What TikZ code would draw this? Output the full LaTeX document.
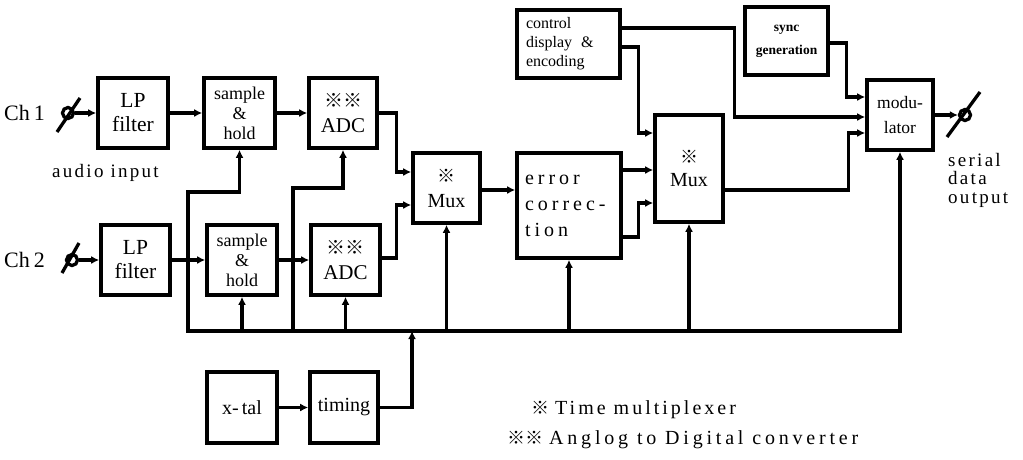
\documentclass[tikz,border=0pt]{standalone}
\usepackage{fontspec}
\setmainfont{Liberation Serif}
\newfontfamily\wide[LetterSpace=12]{Liberation Serif}
\newfontfamily\wider[LetterSpace=20]{Liberation Serif}
\newfontfamily\legA[LetterSpace=15]{Liberation Serif}
\newfontfamily\legB[LetterSpace=19]{Liberation Serif}
\newfontfamily\cjk{Noto Sans CJK JP}
\usetikzlibrary{arrows.meta,calc}
\newcommand\rmk{{\cjk ※}}
\newcommand\fs[2]{\fontsize{#1}{#2}\selectfont}

\begin{document}
\begin{tikzpicture}[x=1pt,y=-1pt,
  blk/.style={draw,line width=3.6pt,inner sep=0pt,align=center},
  wire/.style={line width=3.3pt},
  arr/.style={line width=3.3pt,-{Latex[length=8pt,width=8pt]}},
  jack/.style={draw,circle,line width=3.3pt,minimum size=11pt,inner sep=0pt},
  lbl/.style={inner sep=0pt,align=left}]
\useasboundingbox (0,0) rectangle (1023,459);

% ---- processing blocks ----
\node[blk,minimum width=70pt,minimum height=70pt,font=\fs{21.5}{24}] (lp1) at (133,113)
  {LP\\filter};
\node[blk,minimum width=71pt,minimum height=70pt,font=\fs{18}{20}] (sh1) at (239.5,113)
  {sample\\\&\\hold};
\node[blk,minimum width=68pt,minimum height=70pt,font=\fs{21}{25}] (adc1) at (343,113)
  {{\fs{19}{25}\rmk\rmk}\\ADC};
\node[blk,minimum width=69pt,minimum height=70pt,font=\fs{21.5}{24}] (lp2) at (135.5,260)
  {LP\\filter};
\node[blk,minimum width=70pt,minimum height=70pt,font=\fs{18}{20}] (sh2) at (242,260)
  {sample\\\&\\hold};
\node[blk,minimum width=69pt,minimum height=70pt,font=\fs{21}{25}] (adc2) at (345.5,260)
  {{\fs{19}{25}\rmk\rmk}\\ADC};
\node[blk,minimum width=67pt,minimum height=70pt,font=\fs{20}{25}] (mux1) at (446.5,188)
  {{\fs{18}{25}\rmk}\\Mux};
\node[blk,minimum width=104pt,minimum height=105pt,align=left,
      text width=88pt,font={\fs{20}{26}\wider}] (err) at (569,205.5)
  {error\\correc-\\tion};
\node[blk,minimum width=103pt,minimum height=68pt,align=left,
      text width=85pt,font=\fs{16}{19}] (ctrl) at (568.5,44)
  {control\\display\hspace{9pt}\&\\encoding};
\node[blk,minimum width=68pt,minimum height=107pt,font=\fs{20}{23}] (mux2) at (689,168.5)
  {{\fs{18}{23}\rmk}\\Mux};
\node[blk,minimum width=83pt,minimum height=68pt,font={\fs{13.5}{23}\bfseries}] (sync) at (786.5,41)
  {sync\\generation};
\node[blk,minimum width=66pt,minimum height=70pt,font=\fs{17.5}{25}] (mod) at (900,115)
  {modu-\\lator};
\node[blk,minimum width=70pt,minimum height=71pt,font=\fs{20}{23}] (xtal) at (242,407.5)
  {x-\hspace{3pt}tal};
\node[blk,minimum width=68pt,minimum height=71pt,font=\fs{20}{23}] (timing) at (344,407.5)
  {timing};

% ---- input and output jacks ----
\node[jack] (ch1) at (68,113) {};
\draw[wire] ([shift={(-11,19)}]ch1.center) -- ([shift={(12,-15)}]ch1.center);
\node[jack] (ch2) at (72,260) {};
\draw[wire] ([shift={(-10,13)}]ch2.center) -- ([shift={(7,-17)}]ch2.center);
\node[jack] (out) at (965,115) {};
\draw[wire] ([shift={(-18,22)}]out.center) -- ([shift={(15,-23)}]out.center);

% ---- labels ----
\node[lbl,anchor=west,font=\fs{22}{24}] (tch1) at (4,113) {Ch\hspace{4pt}1};
\node[lbl,anchor=west,font=\fs{22}{24}] (tch2) at (4,260) {Ch\hspace{4pt}2};
\node[lbl,anchor=west,font={\fs{19}{22}\wide}] (tain) at (52,173) {audio input};
\node[lbl,anchor=north west,font={\fs{19}{18.5}\wide}] (tout) at (948,153)
  {serial\\data\\output};
\node[lbl,anchor=west,font={\fs{20}{22}\legA}] (leg1) at (531,410)
  {{\fs{18}{22}\rmk}\hspace{6pt}Time multiplexer};
\node[lbl,anchor=west,font={\fs{20}{22}\legB}] (leg2) at (507,440)
  {{\fs{18}{22}\rmk\rmk}\hspace{6pt}Anglog to Digital converter};

% ---- signal path ----
\draw[arr] (ch1) -- (lp1.west);
\draw[arr] (lp1) -- (sh1);
\draw[arr] (sh1) -- (adc1);
\draw[arr] (ch2) -- (lp2.west);
\draw[arr] (lp2) -- (sh2);
\draw[arr] (sh2) -- (adc2);
\draw[arr] (adc1.east) -- ++(18,0) |- ([yshift=16pt]mux1.west);
\draw[arr] ([yshift=2pt]adc2.east) -- ++(15,0) |- ([yshift=-17pt]mux1.west);
\draw[arr] ([yshift=-2pt]mux1.east) -- ([yshift=-2pt]mux1.east -| err.west);
\draw[arr] ([yshift=35.5pt]err.east) -- ([yshift=35.5pt]err.east -| mux2.west);
\draw[arr] ([yshift=-31.5pt]err.east) -- ++(16,0) |- ([yshift=-34.5pt]mux2.west);
\draw[arr] ([yshift=-3pt]ctrl.east) -- ++(17,0) |- ([yshift=35.5pt]mux2.west);
\draw[arr] ([yshift=16pt]ctrl.east) -- ++(113,0) |- ([yshift=-2pt]mod.west);
\draw[arr] ([yshift=-2pt]sync.east) -- ++(17,0) |- ([yshift=18pt]mod.west);
\draw[arr] ([yshift=-21.5pt]mux2.east) -- ++(124,0) |- ([yshift=-18pt]mod.west);
\draw[arr] (mod.east) -- (out);
\draw[arr] (xtal) -- (timing);

% ---- timing bus ----
\coordinate (busL) at (188,331);
\coordinate (k1) at (188,192);
\coordinate (k2) at (293,188);
\coordinate (tin) at (412,331);
\draw[wire,line cap=rect] (busL) -- (busL -| mod.south);
\draw[arr] (busL) -- (k1) -| (sh1.south);
\draw[arr] (busL -| k2) -- (k2) -| (adc1.south);
\draw[arr] (busL -| sh2.south) -- (sh2.south);
\draw[arr] (busL -| adc2.south) -- (adc2.south);
\draw[arr] (busL -| mux1.south) -- (mux1.south);
\draw[arr] (busL -| err.south) -- (err.south);
\draw[arr] (busL -| mux2.south) -- (mux2.south);
\draw[arr] (busL -| mod.south) -- (mod.south);
\draw[arr] (timing.east) -| (tin);
\end{tikzpicture}
\end{document}
